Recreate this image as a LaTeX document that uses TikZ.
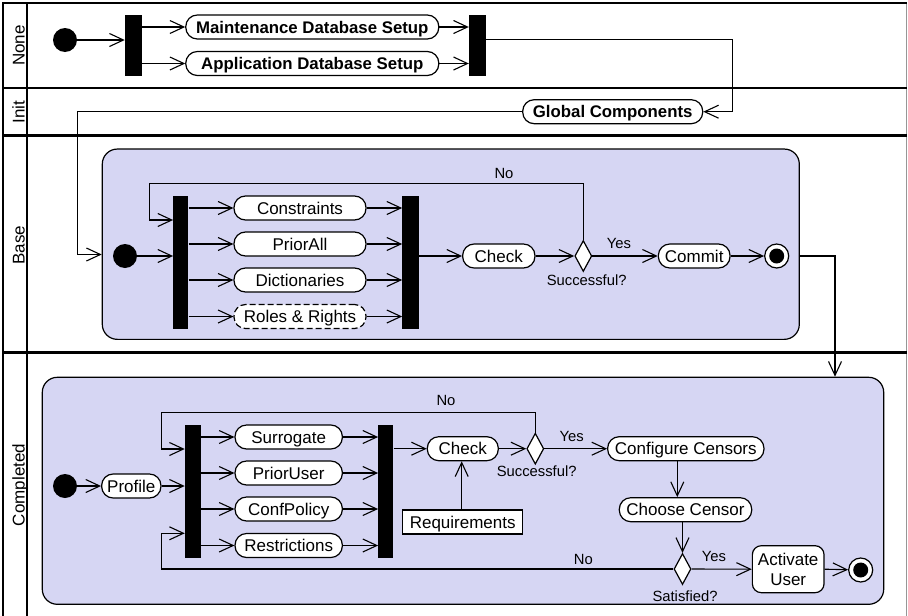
\documentclass[tikz,border=0pt]{standalone}
\usepackage{fontspec}
\setmainfont{Liberation Sans}
\usetikzlibrary{arrows.meta,shapes.geometric,calc}
\definecolor{groupfill}{RGB}{214,214,243}
\definecolor{edgegray}{RGB}{150,150,150}
\begin{document}
\begin{tikzpicture}[x=1pt,y=-1pt,
  every node/.style={font=\fontsize{17}{20}\selectfont},
  lbl/.style={font=\fontsize{14.8}{17}\selectfont, inner sep=0pt},
  lanename/.style={rotate=90, anchor=base, inner sep=0pt},
  act/.style={draw, fill=white, line width=1.2pt, rounded corners=11.5pt,
    minimum height=24pt, inner sep=0pt, text height=12.2pt, text depth=0pt},
  boldact/.style={act, font=\fontsize{16.8}{20}\selectfont\bfseries},
  note/.style={draw, fill=white, line width=1.2pt, minimum height=24pt,
    inner sep=0pt, text height=12.2pt, text depth=0pt},
  tallact/.style={draw, fill=white, line width=1.2pt, rounded corners=9pt,
    inner sep=0pt, align=center},
  bar/.style={fill=black, inner sep=0pt},
  startnode/.style={circle, fill=black, minimum size=24pt, inner sep=0pt},
  endnode/.style={circle, draw, line width=1.2pt, fill=white, minimum size=24pt,
    inner sep=0pt, path picture={\fill[black] (path picture bounding box.center) circle (7.5pt);}},
  decision/.style={diamond, draw, line width=1.2pt, fill=white,
    minimum width=17pt, minimum height=31pt, inner sep=0pt},
  group/.style={draw, line width=1.2pt, fill=groupfill, rounded corners=15pt, inner sep=0pt},
  flow/.style={line width=1.1pt, -{Straight Barb[length=14pt,width=13pt,line width=1.1pt]}},
  frameline/.style={line width=2.8pt},
]
\useasboundingbox (0,0) rectangle (908,616);

% swimlane frame
\draw[edgegray, line width=1.2pt] (906.5,3) -- (906.5,616);
\draw[frameline] (3,616) -- (3,3) -- (906.5,3);
\draw[frameline] (27,3) -- (27,616);
\draw[frameline] (3,88) -- (906.5,88);
\draw[frameline] (3,135.5) -- (906.5,135.5);
\draw[frameline] (3,352.5) -- (906.5,352.5);

\node[lanename] (lnone) at (24.5,45.5) {None};
\node[lanename] (linit) at (24.5,112) {Init};
\node[lanename] (lbase) at (24.5,245) {Base};
\node[lanename] (lcompl) at (24.5,485) {Completed};

% lane None
\node[startnode] (s0) at (65,40) {};
\node[bar, minimum width=16.7pt, minimum height=61pt] (f0) at (133.3,45.5) {};
\node[boldact, minimum width=253pt] (mds) at (312.3,27) {Maintenance Database Setup};
\node[boldact, minimum width=253pt] (ads) at (312.3,63.5) {Application Database Setup};
\node[bar, minimum width=17pt, minimum height=61pt] (j0) at (477.5,45.5) {};

% lane Init
\node[boldact, minimum width=180pt] (gc) at (612.7,111.7) {Global Components};

% lane Base
\node[group, minimum width=697pt, minimum height=190.3pt] (base) at (450.8,244.2) {};
\node[startnode] (s1) at (125,256) {};
\node[bar, minimum width=15pt, minimum height=133.3pt] (f1) at (180.8,262.3) {};
\node[act, minimum width=132pt] (cons) at (300,208) {Constraints};
\node[act, minimum width=132pt] (prior) at (300,244) {PriorAll};
\node[act, minimum width=132pt] (dict) at (300,280) {Dictionaries};
\node[act, minimum width=132pt, dash pattern=on 6pt off 3pt] (roles) at (300,316.5) {Roles \& Rights};
\node[bar, minimum width=16.7pt, minimum height=133.3pt] (j1) at (410.7,262.3) {};
\node[act, minimum width=72.3pt] (chk1) at (498.8,256) {Check};
\node[decision] (d1) at (583.3,256) {};
\node[act, minimum width=71.7pt] (commit) at (694.2,256) {Commit};
\node[endnode] (e1) at (776.7,256) {};
\node[lbl] (no1) at (504,173) {No};
\node[lbl] (yes1) at (619,243) {Yes};
\node[lbl] (succ1) at (586.7,280) {Successful?};

% lane Completed
\node[group, minimum width=841.4pt, minimum height=227pt] (comp) at (463,490.8) {};
\node[startnode] (s2) at (65,486) {};
\node[act, minimum width=59.3pt] (prof) at (131.3,486) {Profile};
\node[bar, minimum width=15.7pt, minimum height=132.7pt] (f2) at (192.8,491.3) {};
\node[act, minimum width=107.3pt] (surr) at (288.7,437) {Surrogate};
\node[act, minimum width=107.3pt] (pru) at (288.7,473) {PriorUser};
\node[act, minimum width=107.3pt] (cpol) at (288.7,509) {ConfPolicy};
\node[act, minimum width=107.3pt] (restr) at (288.7,545.5) {Restrictions};
\node[bar, minimum width=15pt, minimum height=132.7pt] (j2) at (385.8,491.3) {};
\node[act, minimum width=71pt] (chk2) at (462.8,448.7) {Check};
\node[note, minimum width=120pt] (req) at (462.7,522) {Requirements};
\node[decision] (d2) at (535.3,448.7) {};
\node[act, minimum width=156.3pt] (ccfg) at (685.8,448.7) {Configure Censors};
\node[act, minimum width=132.4pt] (cch) at (685.5,509.7) {Choose Censor};
\node[decision] (d3) at (682.5,569) {};
\node[tallact, minimum width=71.7pt, minimum height=47pt] (actu) at (788.2,569.2) {Activate\\User};
\node[endnode] (e2) at (860.7,570) {};
\node[lbl] (no2) at (446,400) {No};
\node[lbl] (yes2) at (571.7,436.7) {Yes};
\node[lbl] (succ2) at (536.7,471.7) {Successful?};
\node[lbl] (no3) at (583.3,559.3) {No};
\node[lbl] (yes3) at (714,556.7) {Yes};
\node[lbl] (sat) at (685,596) {Satisfied?};

% flows in lane None and Init
\draw[flow] (s0) -- (f0.west |- s0);
\draw[flow] (f0.east |- mds) -- (mds.west);
\draw[flow] (f0.east |- ads) -- (ads.west);
\draw[flow] (mds.east) -- (j0.west |- mds);
\draw[flow] (ads.east) -- (j0.west |- ads);
\draw[flow] ([yshift=6pt]j0.east) -| ($(gc.east)+(29,0)$) -- (gc.east);
\draw[flow] (gc.west) -| (77.3,254.5) -- (base.west |- 0,254.5);

% flows in lane Base
\draw[flow] (s1) -- (f1.west |- s1);
\foreach \a in {cons,prior,dict,roles}{
  \draw[flow] (f1.east |- \a) -- (\a.west);
  \draw[flow] (\a.east) -- (j1.west |- \a);
}
\draw[flow] (j1.east |- chk1) -- (chk1.west);
\draw[flow] (chk1.east) -- (d1.west);
\draw[flow] (d1.east) -- (commit.west);
\draw[flow] (d1.north) |- (149.3,183.3) |- (f1.west |- 0,220);
\draw[flow] (commit.east) -- (e1);
\draw[flow] (base.east |- e1) -| (comp.north -| 835,0);

% flows in lane Completed
\draw[flow] (s2) -- (prof.west);
\draw[flow] (prof.east) -- (f2.west |- prof);
\foreach \a in {surr,pru,cpol,restr}{
  \draw[flow] (f2.east |- \a) -- (\a.west);
  \draw[flow] (\a.east) -- (j2.west |- \a);
}
\draw[flow] (j2.east |- chk2) -- (chk2.west);
\draw[flow] ([xshift=-1pt]req.north) -- ([xshift=-1pt]req.north |- chk2.south);
\draw[flow] (chk2.east) -- (d2.west);
\draw[flow] (d2.north) |- (161.7,412.7) |- (f2.west |- 0,449);
\draw[flow] (d2.east) -- (ccfg.west);
\draw[flow] ([xshift=-8.5pt]ccfg.south) -- ([xshift=-8.5pt]ccfg.south |- cch.north);
\draw[flow] (cch.south -| d3) -- (d3.north);
\draw[flow] (d3.west) -| (161.7,533.3) -- (f2.west |- 0,533.3);
\draw[flow] (d3.east) -- (actu.west);
\draw[flow] (actu.east) -- (e2);
\end{tikzpicture}
\end{document}
